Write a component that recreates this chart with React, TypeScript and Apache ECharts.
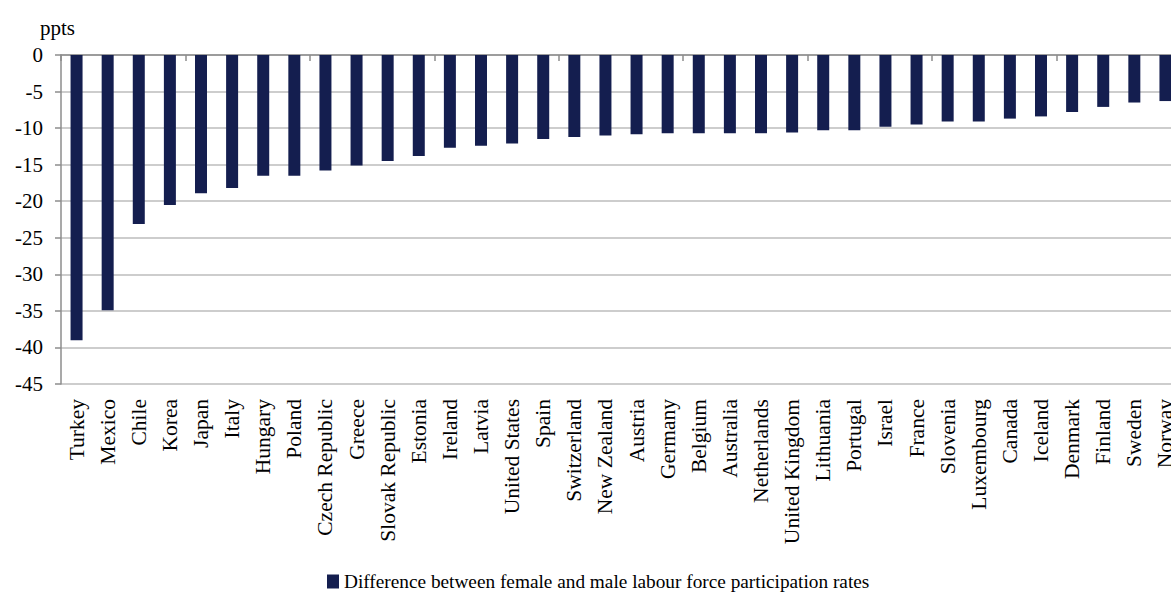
import React, { useEffect, useRef } from "react";
import * as echarts from "echarts";

// OECD countries, ordered from largest to smallest gap
const countries: string[] = [
  "Turkey", "Mexico", "Chile", "Korea", "Japan", "Italy", "Hungary", "Poland",
  "Czech Republic", "Greece", "Slovak Republic", "Estonia", "Ireland", "Latvia",
  "United States", "Spain", "Switzerland", "New Zealand", "Austria", "Germany",
  "Belgium", "Australia", "Netherlands", "United Kingdom", "Lithuania", "Portugal",
  "Israel", "France", "Slovenia", "Luxembourg", "Canada", "Iceland", "Denmark",
  "Finland", "Sweden", "Norway",
];

// Female minus male labour force participation rate, percentage points
const participationGap: number[] = [
  -39.0, -34.9, -23.1, -20.5, -18.9, -18.2, -16.5, -16.5,
  -15.8, -15.1, -14.5, -13.8, -12.7, -12.4,
  -12.1, -11.5, -11.2, -11.0, -10.85, -10.7,
  -10.7, -10.7, -10.7, -10.6, -10.3, -10.3,
  -9.8, -9.5, -9.1, -9.1, -8.7, -8.4, -7.8,
  -7.1, -6.5, -6.3,
];

const seriesName = "Difference between female and male labour force participation rates";
const unitLabel = "ppts";

const serif = "Liberation Serif";

export default function App() {
  const ref = useRef<HTMLDivElement>(null);

  useEffect(() => {
    if (!ref.current) return;
    const chart = echarts.init(ref.current, undefined, { renderer: "svg" });
    chart.setOption({
      animation: false,
      backgroundColor: "#ffffff",
      textStyle: { fontFamily: serif, color: "#000" },
      // the plot runs slightly past the visible frame on the right
      grid: { left: 61, right: 0, top: 55, bottom: 208, containLabel: false },
      graphic: [
        {
          type: "text",
          left: 40,
          top: 17,
          style: { text: unitLabel, fontSize: 21, fontFamily: serif, fill: "#000" },
        },
      ],
      legend: {
        left: 327,
        top: 572,
        padding: 0,
        icon: "rect",
        itemWidth: 12,
        itemHeight: 14,
        textStyle: { fontSize: 19.3, fontFamily: serif, color: "#000" },
        data: [seriesName],
      },
      xAxis: [
        {
          type: "category",
          data: countries,
          position: "top",
          axisLine: { show: true, onZero: false, lineStyle: { color: "#8c8c8c", width: 1.5 } },
          axisTick: { show: true, inside: true, length: 6, lineStyle: { color: "#8c8c8c", width: 1.5 } },
          axisLabel: { show: false },
          splitLine: { show: false },
        },
        {
          type: "category",
          data: countries,
          position: "bottom",
          axisLine: { show: false },
          axisTick: { show: false },
          axisLabel: {
            show: true,
            interval: 0,
            rotate: 90,
            margin: 15,
            fontSize: 21.5,
            fontFamily: serif,
            color: "#000",
          },
        },
      ],
      yAxis: {
        type: "value",
        min: -45,
        max: 0,
        interval: 5,
        axisLine: { show: true, lineStyle: { color: "#8c8c8c", width: 1.5 } },
        axisTick: { show: true, length: 6, lineStyle: { color: "#8c8c8c", width: 1.5 } },
        axisLabel: { fontSize: 21, fontFamily: serif, color: "#000", margin: 18 },
        splitLine: { show: true, lineStyle: { color: "#bdbdbd", width: 1.5 } },
      },
      series: [
        {
          name: seriesName,
          type: "bar",
          xAxisIndex: 0,
          data: participationGap,
          barWidth: 12,
          itemStyle: { color: "#141e4f" },
        },
      ],
    });
    return () => chart.dispose();
  }, []);

  return (
    <div
      style={{ position: "absolute", left: 0, top: 0, width: 1171, height: 592, overflow: "hidden" }}
    >
      <div ref={ref} style={{ width: 1181, height: 592 }} />
    </div>
  );
}
